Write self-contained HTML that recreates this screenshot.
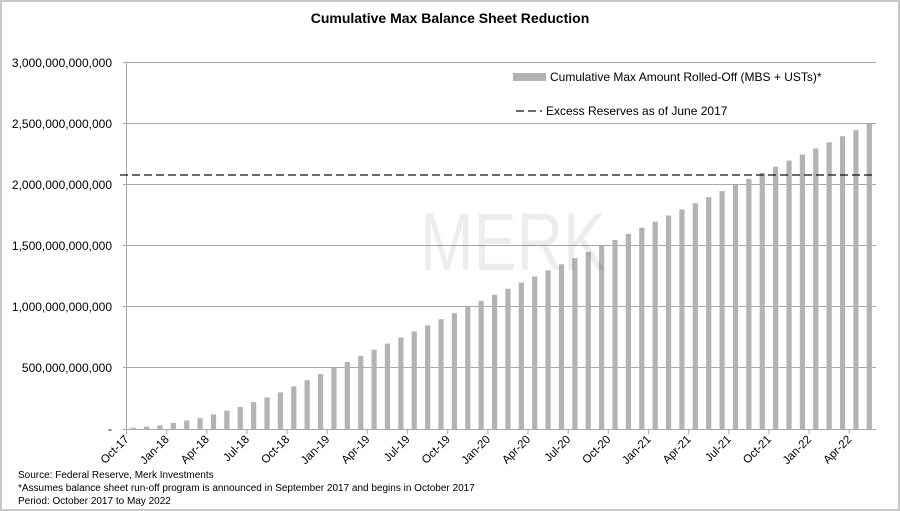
<!DOCTYPE html>
<html><head><meta charset="utf-8"><style>
html,body{margin:0;padding:0;background:#fff;}
svg{display:block;font-family:"Liberation Sans",Arial,sans-serif;}
</style></head><body>
<svg width="900" height="511" viewBox="0 0 900 511" xmlns="http://www.w3.org/2000/svg">
<rect x="1" y="1" width="898" height="509" fill="#fff" stroke="#c8c8c8" stroke-width="2"/>
<text x="450" y="23" text-anchor="middle" font-size="14" font-weight="bold" fill="#000">Cumulative Max Balance Sheet Reduction</text>
<g stroke="#a8a8a8" stroke-width="1">
<line x1="123" y1="62.5" x2="876" y2="62.5"/>
<line x1="123" y1="123.5" x2="876" y2="123.5"/>
<line x1="123" y1="184.5" x2="876" y2="184.5"/>
<line x1="123" y1="245.5" x2="876" y2="245.5"/>
<line x1="123" y1="306.5" x2="876" y2="306.5"/>
<line x1="123" y1="367.5" x2="876" y2="367.5"/>
<line x1="123" y1="429.5" x2="876" y2="429.5"/>
<line x1="126.5" y1="62" x2="126.5" y2="430"/>
</g>
<g font-size="12" fill="#000" text-anchor="end">
<text x="112" y="67">3,000,000,000,000</text>
<text x="112" y="128">2,500,000,000,000</text>
<text x="112" y="189">2,000,000,000,000</text>
<text x="112" y="250">1,500,000,000,000</text>
<text x="112" y="311">1,000,000,000,000</text>
<text x="112" y="372">500,000,000,000</text>
<text x="112" y="433">-</text>
</g>
<g id="bars" fill="#b3b3b3"></g>
<g id="ticks" stroke="#a8a8a8"></g>
<g id="labels" font-size="11.5" fill="#000"></g>
<line x1="120" y1="175" x2="872" y2="175" stroke="#111" stroke-width="1.2" stroke-dasharray="8,4"/>
<text x="420" y="270" font-size="82" fill="#000" fill-opacity="0.07" textLength="186" lengthAdjust="spacingAndGlyphs">MERK</text>
<rect x="513" y="73" width="33" height="8" fill="#b3b3b3"/>
<text x="550" y="81" font-size="12" fill="#000">Cumulative Max Amount Rolled-Off (MBS + USTs)*</text>
<line x1="516" y1="111" x2="542" y2="111" stroke="#111" stroke-width="1.2" stroke-dasharray="8,4"/>
<text x="546" y="115" font-size="12" fill="#000">Excess Reserves as of June 2017</text>
<g font-size="10" fill="#000">
<text x="18" y="478">Source: Federal Reserve, Merk Investments</text>
<text x="18" y="491">*Assumes balance sheet run-off program is announced in September 2017 and begins in October 2017</text>
<text x="18" y="504">Period: October 2017 to May 2022</text>
</g>
<script>
var vals=[10,20,30,50,70,90,120,150,180,220,260,300,350,400,450];
while(vals.length<56)vals.push(vals[vals.length-1]+50);
var ns="http://www.w3.org/2000/svg",b=document.getElementById('bars'),t=document.getElementById('ticks'),l=document.getElementById('labels');
var x0=126.5,w=(876-126.5)/56,y0=429,s=122/1000;
var mon=["Jan","Apr","Jul","Oct"];
vals.forEach(function(v,i){
 var r=document.createElementNS(ns,'rect');var h=v*s;var cx=x0+w*(i+0.5);
 r.setAttribute('x',cx-2.6);r.setAttribute('width',5.2);r.setAttribute('y',y0-h);r.setAttribute('height',h);b.appendChild(r);
 if(i%3==0){
  var tx=x0+w*i;var ln=document.createElementNS(ns,'line');ln.setAttribute('x1',tx);ln.setAttribute('x2',tx);ln.setAttribute('y1',429);ln.setAttribute('y2',434);t.appendChild(ln);
  var m=(9+i)%12,yr=17+Math.floor((9+i)/12);
  var tt=document.createElementNS(ns,'text');tt.setAttribute('text-anchor','end');
  tt.setAttribute('transform','translate('+(tx+3)+',440) rotate(-45)');
  tt.textContent=mon[m/3]+'-'+yr;l.appendChild(tt);
 }
});
</script>
</svg>
</body></html>
